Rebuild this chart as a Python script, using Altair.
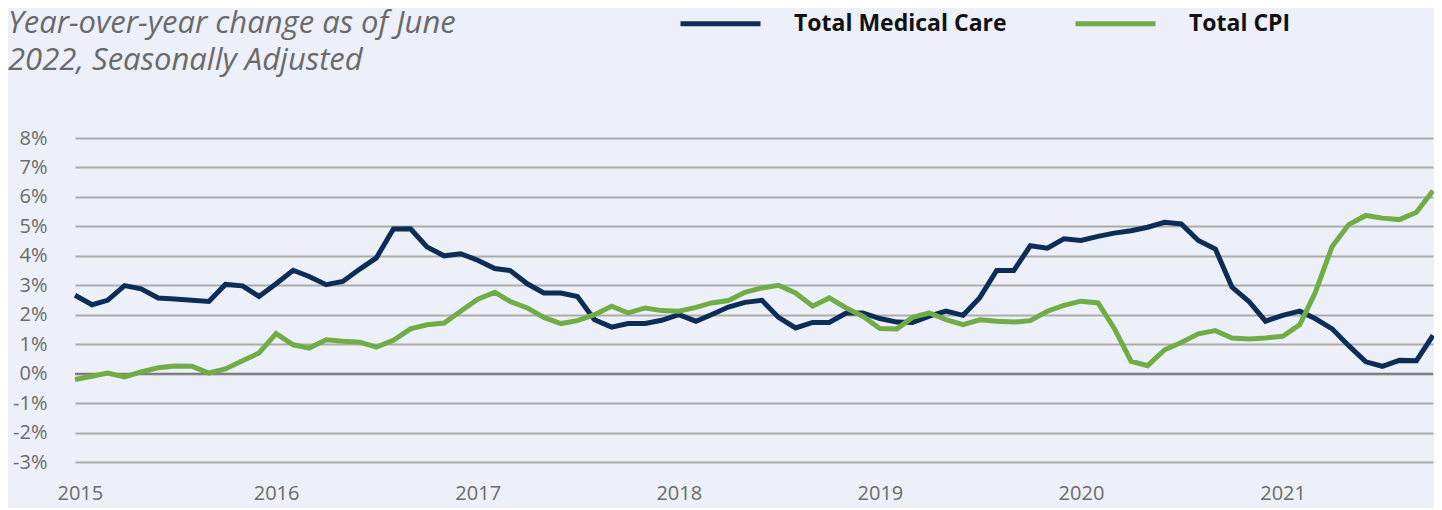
import altair as alt
import pandas as pd

# Monthly, Jan 2015 .. Oct 2021
medical_care = [
    2.66, 2.34, 2.49, 2.99, 2.88, 2.57, 2.53, 2.49, 2.45, 3.03, 2.98, 2.62,
    3.05, 3.51, 3.30, 3.02, 3.13, 3.55, 3.93, 4.91, 4.92, 4.30, 4.00, 4.07,
    3.85, 3.57, 3.50, 3.05, 2.74, 2.74, 2.62, 1.83, 1.58, 1.70, 1.70, 1.81,
    2.00, 1.78, 2.00, 2.26, 2.42, 2.49, 1.91, 1.55, 1.74, 1.74, 2.06, 2.06,
    1.87, 1.75, 1.74, 1.95, 2.12, 1.98, 2.57, 3.50, 3.50, 4.34, 4.26, 4.58,
    4.52, 4.66, 4.77, 4.85, 4.97, 5.14, 5.08, 4.52, 4.23, 2.94, 2.45, 1.78,
    1.98, 2.12, 1.87, 1.52, 0.95, 0.40, 0.25, 0.45, 0.44, 1.30,
]
total_cpi = [
    -0.20, -0.09, 0.02, -0.11, 0.06, 0.20, 0.26, 0.25, 0.02, 0.16, 0.44, 0.70,
    1.36, 0.98, 0.87, 1.15, 1.10, 1.07, 0.90, 1.13, 1.52, 1.66, 1.72, 2.12,
    2.53, 2.76, 2.45, 2.23, 1.91, 1.70, 1.80, 2.00, 2.29, 2.06, 2.23, 2.14,
    2.12, 2.25, 2.40, 2.48, 2.76, 2.91, 3.00, 2.74, 2.29, 2.57, 2.23, 1.95,
    1.53, 1.52, 1.91, 2.06, 1.83, 1.66, 1.83, 1.78, 1.75, 1.80, 2.12, 2.32,
    2.46, 2.40, 1.55, 0.42, 0.27, 0.81, 1.06, 1.35, 1.46, 1.21, 1.18, 1.21,
    1.27, 1.66, 2.74, 4.32, 5.06, 5.37, 5.28, 5.23, 5.48, 6.21,
]
series_names = ["Total Medical Care", "Total CPI"]
series_colors = ["#0B2D57", "#70AD47"]
y_ticks = [-3, -2, -1, 0, 1, 2, 3, 4, 5, 6, 7, 8]
title_lines = ["Year-over-year change as of June", "2022, Seasonally Adjusted"]

dates = pd.date_range("2015-01-01", periods=len(medical_care), freq="MS")
df = pd.concat([
    pd.DataFrame({"date": dates, "value": medical_care, "series": series_names[0]}),
    pd.DataFrame({"date": dates, "value": total_cpi, "series": series_names[1]}),
])

W, H = 1358, 324
color_scale = alt.Scale(domain=series_names, range=series_colors)
y_scale = alt.Scale(domain=[-3, 8], nice=False, zero=False)

x_enc = alt.X("date:T", scale=alt.Scale(domain=[dates[0].isoformat(), dates[-1].isoformat()], nice=False),
              axis=alt.Axis(format="%Y", tickCount={"interval": "year", "step": 1}, title=None,
                            grid=False, domain=False, ticks=False, labelPadding=21,
                            labelFlush=True, labelFlushOffset=18,
                            labelFontSize=20, labelColor="#6b6b6b", labelFont="Open Sans"))
y_axis = alt.Axis(values=y_ticks, labelExpr="datum.value + '%'", title=None,
                  grid=True, gridColor="#ababab", gridWidth=2, labelOverlap=False,
                  domain=False, ticks=False, labelPadding=28,
                  labelFontSize=20, labelColor="#6b6b6b", labelFont="Open Sans")
y_enc = alt.Y("value:Q", scale=y_scale, axis=y_axis)

legend = alt.Legend(orient="none", legendX=603, legendY=-157, direction="horizontal",
                    title=None, symbolType="stroke", symbolSize=6400, symbolStrokeWidth=5,
                    labelFont="Open Sans", labelFontSize=23, labelFontWeight="bold", labelLimit=400,
                    labelColor="#111111", labelOffset=31, columnPadding=58, padding=0)

base = alt.Chart(df)
zero_rule = alt.Chart(pd.DataFrame({"value": [0]})).mark_rule(
    color="#7a7a7a", strokeWidth=2).encode(y=y_enc)

line_med = base.transform_filter(alt.datum.series == series_names[0]).mark_line(
    strokeWidth=5, strokeJoin="miter", strokeCap="butt").encode(
    x=x_enc, y=y_enc, color=alt.Color("series:N", scale=color_scale, legend=legend))
line_cpi = base.transform_filter(alt.datum.series == series_names[1]).mark_line(
    strokeWidth=5, strokeJoin="miter", strokeCap="butt").encode(
    x=x_enc, y=y_enc, color=alt.Color("series:N", scale=color_scale, legend=legend))

title_text = alt.Chart(pd.DataFrame({"t": [0]})).mark_text(
    align="left", baseline="alphabetic", font="Open Sans", fontSize=31, fontStyle="italic",
    color="#6a6a6a", lineHeight=37).encode(
    x=alt.value(-67), y=alt.value(-105), text=alt.value(title_lines))

chart = alt.layer(zero_rule, line_med, line_cpi, title_text).properties(
    width=W, height=H,
    autosize=alt.AutoSizeParams(type="none"),
    padding={"left": 67, "top": 130, "right": 1, "bottom": 46},
    background="#EDF0F9",
).configure_view(stroke=None)

chart.save("out.html", embed_options={"renderer": "svg", "actions": False})
